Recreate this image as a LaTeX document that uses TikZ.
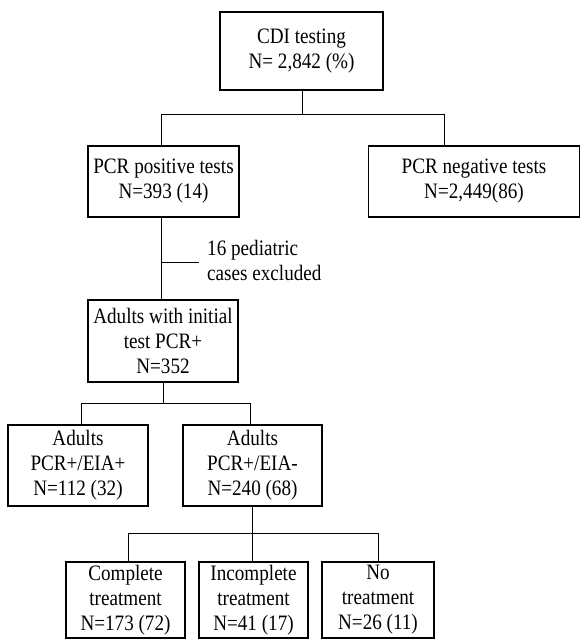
\documentclass[tikz,border=0pt]{standalone}
\usepackage{fontspec}
\setmainfont{Liberation Serif}[FakeStretch=0.87]
\usetikzlibrary{positioning}

\begin{document}
\begin{tikzpicture}[x=1pt,y=-1pt, box/.style={draw,line width=1.7pt,align=center,inner sep=1pt,font=\fontsize{22}{25}\selectfont}, link/.style={line width=0.9pt}]
	\useasboundingbox (0,0) rectangle (581,639);
	\node[box,minimum width=163pt,minimum height=78pt] (cdi) at (301.5,51) {CDI testing\\N= 2,842 (\%)};
	\node[box,minimum width=151pt,minimum height=71pt] (pos) at (163.5,181.5) {PCR positive tests\\N=393 (14)};
	\node[box,minimum width=211pt,minimum height=71pt] (neg) at (474,181.5) {PCR negative tests\\N=2,449(86)};
	\node[box,minimum width=150pt,minimum height=82pt] (adult) at (163,341) {Adults with initial\\test PCR+\\N=352};
	\node[box,minimum width=140pt,minimum height=81pt] (eiapos) at (78,465.5) {Adults\\PCR+/EIA+\\N=112 (32)};
	\node[box,minimum width=139pt,minimum height=81pt] (eianeg) at (252.5,465.5) {Adults\\PCR+/EIA-\\N=240 (68)};
	\node[box,minimum width=119pt,minimum height=76pt] (full) at (125.5,600) {Complete\\treatment\\N=173 (72)};
	\node[box,minimum width=109pt,minimum height=76pt] (part) at (253.5,600) {Incomplete\\treatment\\N=41 (17)};
	\node[box,minimum width=112pt,minimum height=76pt] (none) at (378,600) {No\\treatment\\N=26 (11)};
	\node[align=left,anchor=west,inner sep=0pt,font=\fontsize{22}{25}\selectfont] (excl) at (207,260) {16 pediatric\\cases excluded};
	% branch points
	\coordinate (s1) at (302,114);
	\coordinate (s1l) at (161,114);
	\coordinate (s1r) at (444,114);
	\coordinate (s2) at (161,262);
	\coordinate (s2e) at (199,262);
	\coordinate (s3) at (163,403);
	\coordinate (s3l) at (81,403);
	\coordinate (s3r) at (250,403);
	\coordinate (s4) at (252,533);
	\coordinate (s4l) at (128,533);
	\coordinate (s4r) at (378,533);
	\draw[link] (cdi.south -| s1) -- (s1);
	\draw[link] (pos.north -| s1l) -- (s1l) -- (s1r) -- (neg.north -| s1r);
	\draw[link] (pos.south -| s2) -- (adult.north -| s2);
	\draw[link] (s2) -- (s2e);
	\draw[link] (adult.south -| s3) -- (s3);
	\draw[link] (eiapos.north -| s3l) -- (s3l) -- (s3r) -- (eianeg.north -| s3r);
	\draw[link] (eianeg.south -| s4) -- (s4);
	\draw[link] (full.north -| s4l) -- (s4l) -- (s4r) -- (none.north -| s4r);
	\draw[link] (s4) -- (part.north -| s4);
\end{tikzpicture}
\end{document}
